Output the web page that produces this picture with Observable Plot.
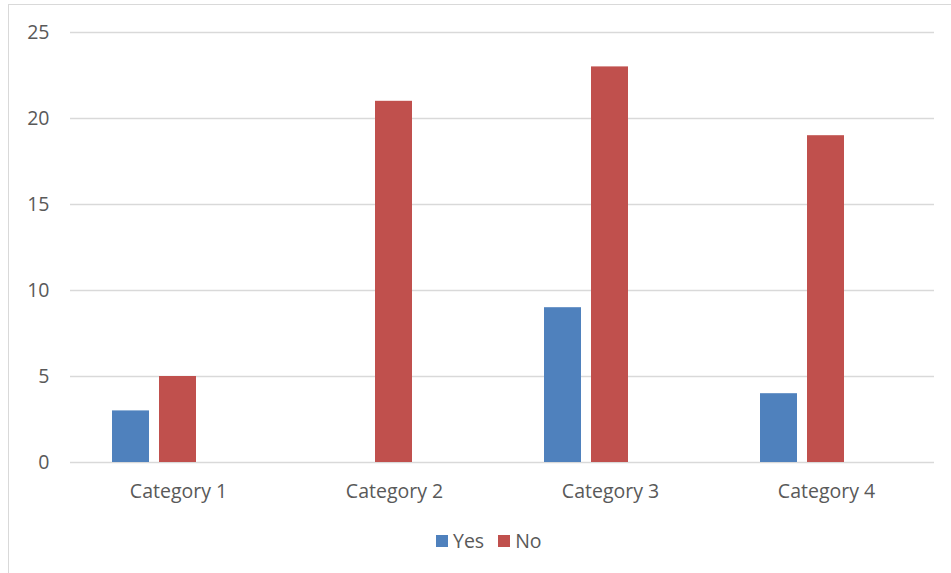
<!DOCTYPE html>
<html>
<head>
<meta charset="utf-8">
<script src="https://cdn.jsdelivr.net/npm/d3@7"></script>
<script src="https://cdn.jsdelivr.net/npm/@observablehq/plot@0.6"></script>
<style>
  body { margin: 0; background: #fff; font-family: "Open Sans", sans-serif; }
  #page { position: relative; width: 951px; height: 573px; overflow: hidden; }
  #frame { position: absolute; left: 8px; top: 4px; width: 980px; height: 620px;
           border: 1.5px solid #d9d9d9; box-sizing: border-box; pointer-events: none; }
  #chart { position: absolute; left: 0; top: 0; }
  #legend { position: absolute; left: 0; top: 524px; }
  :where(.lg-swatch > svg) { margin-right: 5px !important; }
  .lg-swatch { margin-right: 14px !important; }
</style>
</head>
<body>
<div id="page">
  <div id="chart"></div>
  <div id="legend"></div>
  <div id="frame"></div>
</div>
<script>
// Categories along the bottom and the three series of each cluster
// (the third series slot is present but holds no values).
const categories = ["Category 1", "Category 2", "Category 3", "Category 4"];
const seriesNames = ["Yes", "No", "Series 3"];
const yesValues = [3, 0, 9, 4];
const noValues = [5, 21, 23, 19];
const series3Values = [null, null, null, null];
const legendSeries = ["Yes", "No"];
const seriesColors = ["#4F81BD", "#C0504D", "#9BBB59"];
const yTicks = [0, 5, 10, 15, 20, 25];

// Long-format rows for the clustered bars
const valueLists = [yesValues, noValues, series3Values];
const rows = [];
categories.forEach((category, i) => {
  seriesNames.forEach((series, s) => {
    const value = valueLists[s][i];
    if (value != null) rows.push({category, series, value});
  });
});

const font = "'Open Sans', sans-serif";
const fontSize = "19.5px";

const chart = Plot.plot({
  width: 951,
  height: 515,
  marginLeft: 68,
  marginRight: 16,
  marginTop: 32,
  marginBottom: 53,
  style: {fontFamily: font, fontSize, color: "#595959", background: "transparent", overflow: "visible"},
  fx: {domain: categories, padding: 0, label: null, tickSize: 0, tickPadding: 22},
  x: {domain: seriesNames, paddingInner: 0.203, paddingOuter: 0.871, axis: null},
  y: {domain: [0, 25], ticks: yTicks, label: null, tickSize: 0, tickPadding: 21},
  color: {domain: seriesNames, range: seriesColors},
  marks: [
    Plot.gridY(yTicks, {stroke: "#d9d9d9", strokeOpacity: 1, strokeWidth: 1.4}),
    Plot.barY(rows, {fx: "category", x: "series", y: "value", fill: "series"})
  ]
});
document.getElementById("chart").append(chart);

const legend = Plot.legend({
  color: {domain: legendSeries, range: seriesColors.slice(0, 2)},
  legend: "swatches",
  swatchSize: 12,
  marginLeft: 436,
  className: "lg",
  style: {fontFamily: font, fontSize, color: "#595959"}
});
document.getElementById("legend").append(legend);
</script>
</body>
</html>
